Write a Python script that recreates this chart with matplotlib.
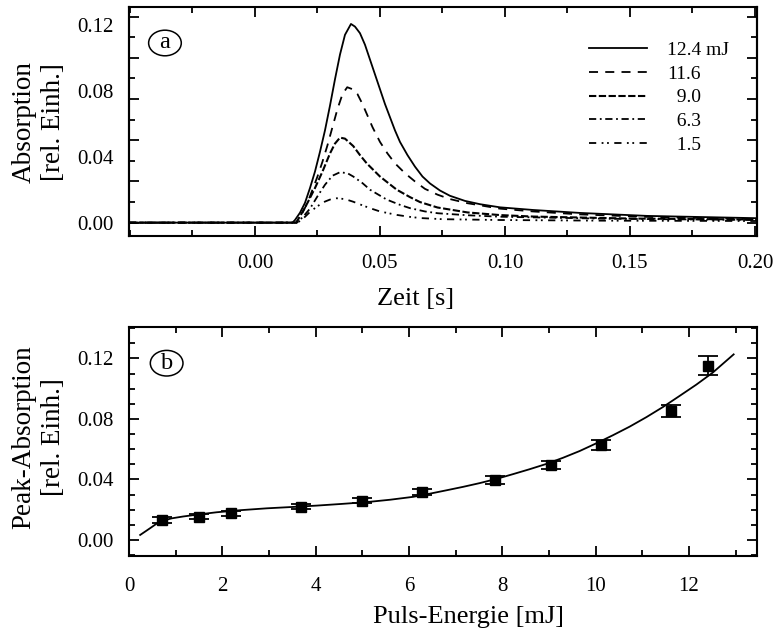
import numpy as np
import matplotlib
matplotlib.use("Agg")
import matplotlib.pyplot as plt
from matplotlib.patches import Ellipse
from matplotlib.ticker import MultipleLocator, NullFormatter, FormatStrFormatter

plt.rcParams['font.family'] = ['Liberation Serif', 'DejaVu Serif']

# (a) Absorptions-Transienten, Zeit [s] / Absorption
t_124 = [-0.0504, 0.000, 0.0150, 0.0160, 0.0180, 0.0200, 0.0220, 0.0240, 0.0260, 0.0280,
         0.0300, 0.0320, 0.0340, 0.0360, 0.0384, 0.0400, 0.0420, 0.0440, 0.0460, 0.0480,
         0.0500, 0.0520, 0.0540, 0.0560, 0.0580, 0.0610, 0.0640, 0.0670, 0.0700, 0.0740,
         0.0780, 0.0840, 0.0900, 0.0980, 0.1112, 0.1300, 0.1568, 0.2008]
a_124 = [0.0, 0.0, 0.0, 0.0016, 0.0060, 0.0120, 0.0210, 0.0310, 0.0430, 0.0560,
         0.0710, 0.0870, 0.1020, 0.1140, 0.1206, 0.1190, 0.1150, 0.1080, 0.0990, 0.0900,
         0.0810, 0.0720, 0.0640, 0.0560, 0.0490, 0.0410, 0.0340, 0.0280, 0.0238, 0.0195,
         0.0163, 0.0132, 0.0112, 0.0093, 0.0077, 0.0059, 0.0041, 0.0027]

t_116 = [-0.0504, 0.000, 0.0165, 0.0190, 0.0210, 0.0230, 0.0250, 0.0270, 0.0290, 0.0310,
         0.0330, 0.0350, 0.0369, 0.0390, 0.0410, 0.0430, 0.0450, 0.0470, 0.0500, 0.0530,
         0.0560, 0.0600, 0.0640, 0.0680, 0.0730, 0.0780, 0.0850, 0.0980, 0.1112, 0.1300,
         0.1568, 0.2008]
a_116 = [0.0, 0.0, 0.0, 0.0060, 0.0120, 0.0200, 0.0280, 0.0370, 0.0470, 0.0580,
         0.0690, 0.0780, 0.0822, 0.0810, 0.0780, 0.0720, 0.0650, 0.0580, 0.0490, 0.0420,
         0.0360, 0.0300, 0.0250, 0.0205, 0.0170, 0.0143, 0.0118, 0.0085, 0.0068, 0.0050,
         0.0035, 0.0021]

t_90 = [-0.0504, 0.000, 0.0165, 0.0187, 0.0210, 0.0240, 0.0270, 0.0300, 0.0320, 0.0340,
        0.0360, 0.0393, 0.0420, 0.0447, 0.0500, 0.0567, 0.0620, 0.0660, 0.0730, 0.0850,
        0.0980, 0.1112, 0.1500, 0.2008]
a_90 = [0.0, 0.0, 0.0, 0.0057, 0.0120, 0.0210, 0.0310, 0.0420, 0.0480, 0.0516,
        0.0510, 0.0465, 0.0410, 0.0360, 0.0280, 0.0200, 0.0155, 0.0125, 0.0092, 0.0062,
        0.0046, 0.0037, 0.0025, 0.0019]

t_63 = [-0.0504, 0.000, 0.0168, 0.0192, 0.0220, 0.0250, 0.0280, 0.0310, 0.0340, 0.0370,
        0.0393, 0.0430, 0.0460, 0.0527, 0.0580, 0.0620, 0.0680, 0.0732, 0.0850, 0.0980,
        0.1400, 0.2008]
a_63 = [0.0, 0.0, 0.0, 0.0035, 0.0085, 0.0160, 0.0230, 0.0285, 0.0306, 0.0300,
        0.0280, 0.0240, 0.0200, 0.0140, 0.0108, 0.0088, 0.0068, 0.0057, 0.0045, 0.0036,
        0.0024, 0.0016]

t_15 = [-0.0504, 0.000, 0.0170, 0.0193, 0.0220, 0.0250, 0.0280, 0.0305, 0.0327, 0.0360,
        0.0393, 0.0430, 0.0460, 0.0500, 0.0567, 0.0620, 0.0660, 0.0750, 0.0980, 0.1400,
        0.2008]
a_15 = [0.0, 0.0, 0.0, 0.0025, 0.0065, 0.0100, 0.0128, 0.0143, 0.0148, 0.0143,
        0.0127, 0.0105, 0.0088, 0.0068, 0.0047, 0.0035, 0.0028, 0.0021, 0.0016, 0.0012,
        0.0010]

# (b) Peak-Absorption gegen Puls-Energie
energie = [0.71, 1.50, 2.18, 3.68, 5.00, 6.28, 7.85, 9.04, 10.12, 11.62, 12.41]
peak = [0.0132, 0.0154, 0.0176, 0.0220, 0.0258, 0.0319, 0.0397, 0.0496, 0.0628, 0.0853, 0.1152]
peak_err = [0.0017, 0.0017, 0.0017, 0.0017, 0.0017, 0.0020, 0.0024, 0.0028, 0.0033, 0.0042, 0.0063]

fit_e = [0.24, 0.35, 0.45, 0.58, 0.73, 0.92, 1.16, 1.50, 1.88, 2.40, 2.95, 3.50, 4.02, 4.55,
         5.09, 5.60, 6.09, 6.45, 6.80, 7.16, 7.52, 7.88, 8.23, 8.58, 8.94, 9.30, 9.66,
         10.01, 10.37, 10.73, 11.09, 11.45, 11.80, 12.16, 12.51, 12.96]
fit_a = [0.0033, 0.0056, 0.0077, 0.0105, 0.0128, 0.0143, 0.0155, 0.0169, 0.0183, 0.0197,
         0.0209, 0.0218, 0.0227, 0.0238, 0.0250, 0.0266, 0.0285, 0.0306, 0.0328, 0.0351,
         0.0376, 0.0404, 0.0435, 0.0467, 0.0502, 0.0543, 0.0588, 0.0638, 0.0692, 0.0749,
         0.0812, 0.0880, 0.0952, 0.1027, 0.1106, 0.1227]

fig = plt.figure(figsize=(7.76, 6.31), dpi=100)
ax1 = fig.add_axes([0.1662, 0.626, 0.8093, 0.3624])
ax2 = fig.add_axes([0.1662, 0.1189, 0.8093, 0.3624])

# --- Teil (a) ---
kurven = [
    (t_124, a_124, '12.4 mJ', '-', 1.3),
    (t_116, a_116, '11.6', (0, (5, 4)), 1.3),
    (t_90, a_90, '  9.0', (0, (3.5, 1.2)), 1.5),
    (t_63, a_63, '  6.3', (0, (4, 2, 1, 2)), 1.3),
    (t_15, a_15, '  1.5', (0, (4, 3, 1, 2, 1, 3)), 1.3),
]
for t, a, lab, ls, lw in kurven:
    ax1.plot(t, a, color='black', linestyle=ls, linewidth=lw, label=lab)

ax1.set_xlim(-0.0504, 0.2008)
ax1.set_ylim(-0.0081, 0.1307)
ax1.set_xticks([0.0, 0.05, 0.10, 0.15, 0.20])
ax1.xaxis.set_minor_locator(MultipleLocator(0.025))
ax1.xaxis.set_major_formatter(FormatStrFormatter('%.2f'))
ax1.set_yticks([0.0, 0.04, 0.08, 0.12])
ax1.yaxis.set_major_formatter(FormatStrFormatter('%.2f'))
ax1.tick_params(axis='x', which='major', direction='in', length=7, width=1.3,
                top=True, labelsize=15, pad=13)
ax1.tick_params(axis='x', which='minor', direction='in', length=4, width=1.3, top=True)
ax1.tick_params(axis='y', which='both', length=0, labelsize=15, pad=11)

# Striche der y-Achse liegen im 0.0125er Raster
for seite in ['left', 'right']:
    sec = ax1.secondary_yaxis(seite)
    sec.yaxis.set_major_locator(MultipleLocator(0.025))
    sec.yaxis.set_minor_locator(MultipleLocator(0.0125))
    sec.yaxis.set_major_formatter(NullFormatter())
    sec.yaxis.set_minor_formatter(NullFormatter())
    sec.tick_params(which='major', direction='in', length=7, width=1.3)
    sec.tick_params(which='minor', direction='in', length=4, width=1.3)
    sec.spines[seite].set_linewidth(1.5)

ax1.set_xlabel('Zeit [s]', fontsize=19)
ax1.xaxis.set_label_coords(0.457, -0.226)
ax1.set_ylabel('Absorption\n[rel. Einh.]', fontsize=19.5, linespacing=1.22)
ax1.yaxis.set_label_coords(-0.101, 0.5)

leg = ax1.legend(loc='upper left', bbox_to_anchor=(0.7325, 0.852), frameon=False,
                 fontsize=14, handlelength=3.0, handletextpad=1.0, labelspacing=0.32,
                 borderpad=0, borderaxespad=0)

# Kennbuchstaben in Ellipsen
for ax, buchst, (cx, cy) in [(ax1, 'a', (0.0573, 0.844)), (ax2, 'b', (0.060, 0.843))]:
    ax.add_patch(Ellipse((cx, cy), 0.052, 0.112, transform=ax.transAxes,
                         fc='white', ec='black', lw=1.1, zorder=4))
    ax.text(cx, cy, buchst, transform=ax.transAxes, fontsize=17.5, ha='center',
            va='center', zorder=5)

# --- Teil (b) ---
ax2.errorbar(energie, peak, yerr=peak_err, fmt='s', color='black', ms=6.5,
             capsize=7, capthick=1.3, elinewidth=1.3)
ax2.plot(fit_e, fit_a, color='black', linewidth=1.3)

ax2.set_xlim(0, 13.46)
ax2.set_ylim(-0.0106, 0.1406)
ax2.xaxis.set_major_locator(MultipleLocator(2))
ax2.xaxis.set_minor_locator(MultipleLocator(1))
ax2.yaxis.set_major_locator(MultipleLocator(0.04))
ax2.yaxis.set_minor_locator(MultipleLocator(0.01))
ax2.yaxis.set_major_formatter(FormatStrFormatter('%.2f'))
ax2.tick_params(which='major', direction='in', length=7, width=1.3,
                top=True, right=True, labelsize=15)
ax2.tick_params(which='minor', direction='in', length=4, width=1.3, top=True, right=True)
ax2.tick_params(axis='x', pad=15)
ax2.tick_params(axis='y', pad=11)

ax2.set_xlabel('Puls-Energie [mJ]', fontsize=19)
ax2.xaxis.set_label_coords(0.541, -0.218)
ax2.set_ylabel('Peak-Absorption\n[rel. Einh.]', fontsize=19.5, linespacing=1.22)
ax2.yaxis.set_label_coords(-0.101, 0.52)

for ax in (ax1, ax2):
    for sp in ax.spines.values():
        sp.set_linewidth(1.5)

fig.savefig('out.png', dpi=100)
